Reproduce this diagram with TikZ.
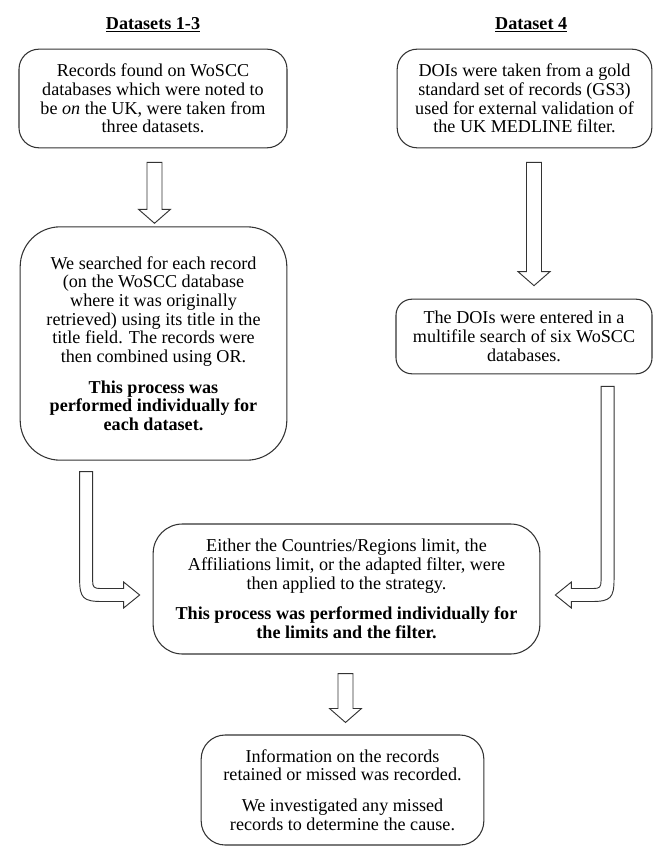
\documentclass[tikz,border=0pt]{standalone}
\usepackage{fontspec}
\setmainfont{Liberation Serif}
\usetikzlibrary{calc}
\usetikzlibrary{positioning}

% hollow block arrow pointing down: #1 top of shaft, #2 tip
\newcommand{\blockdown}[2]{%
	\draw [blockarrow] ($(#1)+(-7.5,0)$) -- ($(#2)+(-7.5,-14)$) -- ($(#2)+(-16,-14)$) -- (#2)
		-- ($(#2)+(16,-14)$) -- ($(#2)+(7.5,-14)$) -- ($(#1)+(7.5,0)$) -- cycle;%
}

\begin{document}
\begin{tikzpicture}
[
	x								= 0.75pt,
	y								= -0.75pt,
	%
	every node/.style				=
	{
		font						= \fontsize{13.6pt}{14pt}\selectfont,
		align						= center
	},
	%
	stepbox/.style					=
	{
		draw						= black!80,
		line width					= 0.8pt,
		rounded corners				= 15pt,
		inner sep					= 0pt
	},
	%
	heading/.style					=
	{
		font						= \fontsize{13.6pt}{14pt}\selectfont\bfseries,
		inner sep					= 0pt
	},
	%
	blockarrow/.style				=
	{
		draw						= black!80,
		line width					= 0.7pt,
		fill						= white,
		line join					= miter
	},
]
	\useasboundingbox (0,0) rectangle (654,848);

	% left column
	\node (boxA) [stepbox, minimum width = 201pt, minimum height = 74pt] at (153,98.5)
		{Records found on WoSCC\\databases which were noted to\\be \emph{on} the UK, were taken from\\three datasets.};
	\node (boxC) [stepbox, rounded corners = 30pt, minimum width = 200pt, minimum height = 175pt] at (153.5,343.5)
		{We searched for each record\\(on the WoSCC database\\where it was originally\\retrieved) using its title in the\\title field. The records were\\then combined using OR.\\[9pt]
		\textbf{This process was}\\\textbf{performed individually for}\\\textbf{each dataset.}};

	% right column
	\node (boxB) [stepbox, minimum width = 191pt, minimum height = 74pt] at (524.5,98.5)
		{DOIs were taken from a gold\\standard set of records (GS3)\\used for external validation of\\the UK MEDLINE filter.};
	\node (boxD) [stepbox, rounded corners = 12pt, minimum width = 192pt, minimum height = 56pt] at (524,336.5)
		{The DOIs were entered in a\\multifile search of six WoSCC\\databases.};

	% bottom
	\node (boxE) [stepbox, rounded corners = 22pt, minimum width = 290pt, minimum height = 97.5pt] at (346.5,589)
		{Either the Countries/Regions limit, the\\Affiliations limit, or the adapted filter, were\\then applied to the strategy.\\[9pt]
		\textbf{This process was performed individually for}\\\textbf{the limits and the filter.}};
	\node (boxF) [stepbox, rounded corners = 18pt, minimum width = 212pt, minimum height = 82.5pt] at (342.5,790)
		{Information on the records\\retained or missed was recorded.\\[9pt]
		We investigated any missed\\records to determine the cause.};

	\node (headL) [heading, above = 12pt of boxA] {\underline{Datasets 1-3}};
	\node (headR) [heading, above = 12pt of boxB, xshift = 5pt] {\underline{Dataset 4}};

	% straight arrows
	\coordinate (a1) at ($(boxA.south)+(1.5,14)$);
	\coordinate (a1tip) at ($(boxC.north)+(1,-3)$);
	\coordinate (a2) at ($(boxB.south)+(9.5,14)$);
	\coordinate (a2tip) at ($(boxD.north)+(10,-13)$);
	\coordinate (a3) at ($(boxE.south)+(-1,19)$);
	\coordinate (a3tip) at ($(boxF.north)+(3,-12)$);

	\blockdown{a1}{a1tip}
	\blockdown{a2}{a2tip}
	\blockdown{a3}{a3tip}

	% bent arrows into the middle box
	\coordinate (l1) at ($(boxC.south west)+(66.5,11)$);
	\coordinate (l2) at ($(boxE.west)+(-13,6)$);
	\coordinate (r1) at ($(boxD.south east)+(-45,12)$);
	\coordinate (r2) at ($(boxE.east)+(15,6)$);

	\draw [blockarrow] ($(l1)+(-6.5,0)$) -- ($(l1 |- l2)+(-6.5,-16)$)
		.. controls ($(l1 |- l2)+(-6.5,3)$) and ($(l1 |- l2)+(-3,6.5)$) .. ($(l1 |- l2)+(16,6.5)$)
		-- ($(l2)+(-16,6.5)$) -- ($(l2)+(-16,13)$) -- (l2) -- ($(l2)+(-16,-13)$) -- ($(l2)+(-16,-6.5)$)
		-- ($(l1 |- l2)+(14,-6.5)$)
		.. controls ($(l1 |- l2)+(8,-6.5)$) and ($(l1 |- l2)+(6.5,-8)$) .. ($(l1 |- l2)+(6.5,-14)$)
		-- ($(l1)+(6.5,0)$) -- cycle;

	\draw [blockarrow] ($(r1)+(6.5,0)$) -- ($(r1 |- r2)+(6.5,-16)$)
		.. controls ($(r1 |- r2)+(6.5,3)$) and ($(r1 |- r2)+(3,6.5)$) .. ($(r1 |- r2)+(-16,6.5)$)
		-- ($(r2)+(16,6.5)$) -- ($(r2)+(16,13)$) -- (r2) -- ($(r2)+(16,-13)$) -- ($(r2)+(16,-6.5)$)
		-- ($(r1 |- r2)+(-14,-6.5)$)
		.. controls ($(r1 |- r2)+(-8,-6.5)$) and ($(r1 |- r2)+(-6.5,-8)$) .. ($(r1 |- r2)+(-6.5,-14)$)
		-- ($(r1)+(-6.5,0)$) -- cycle;

\end{tikzpicture}
\end{document}
